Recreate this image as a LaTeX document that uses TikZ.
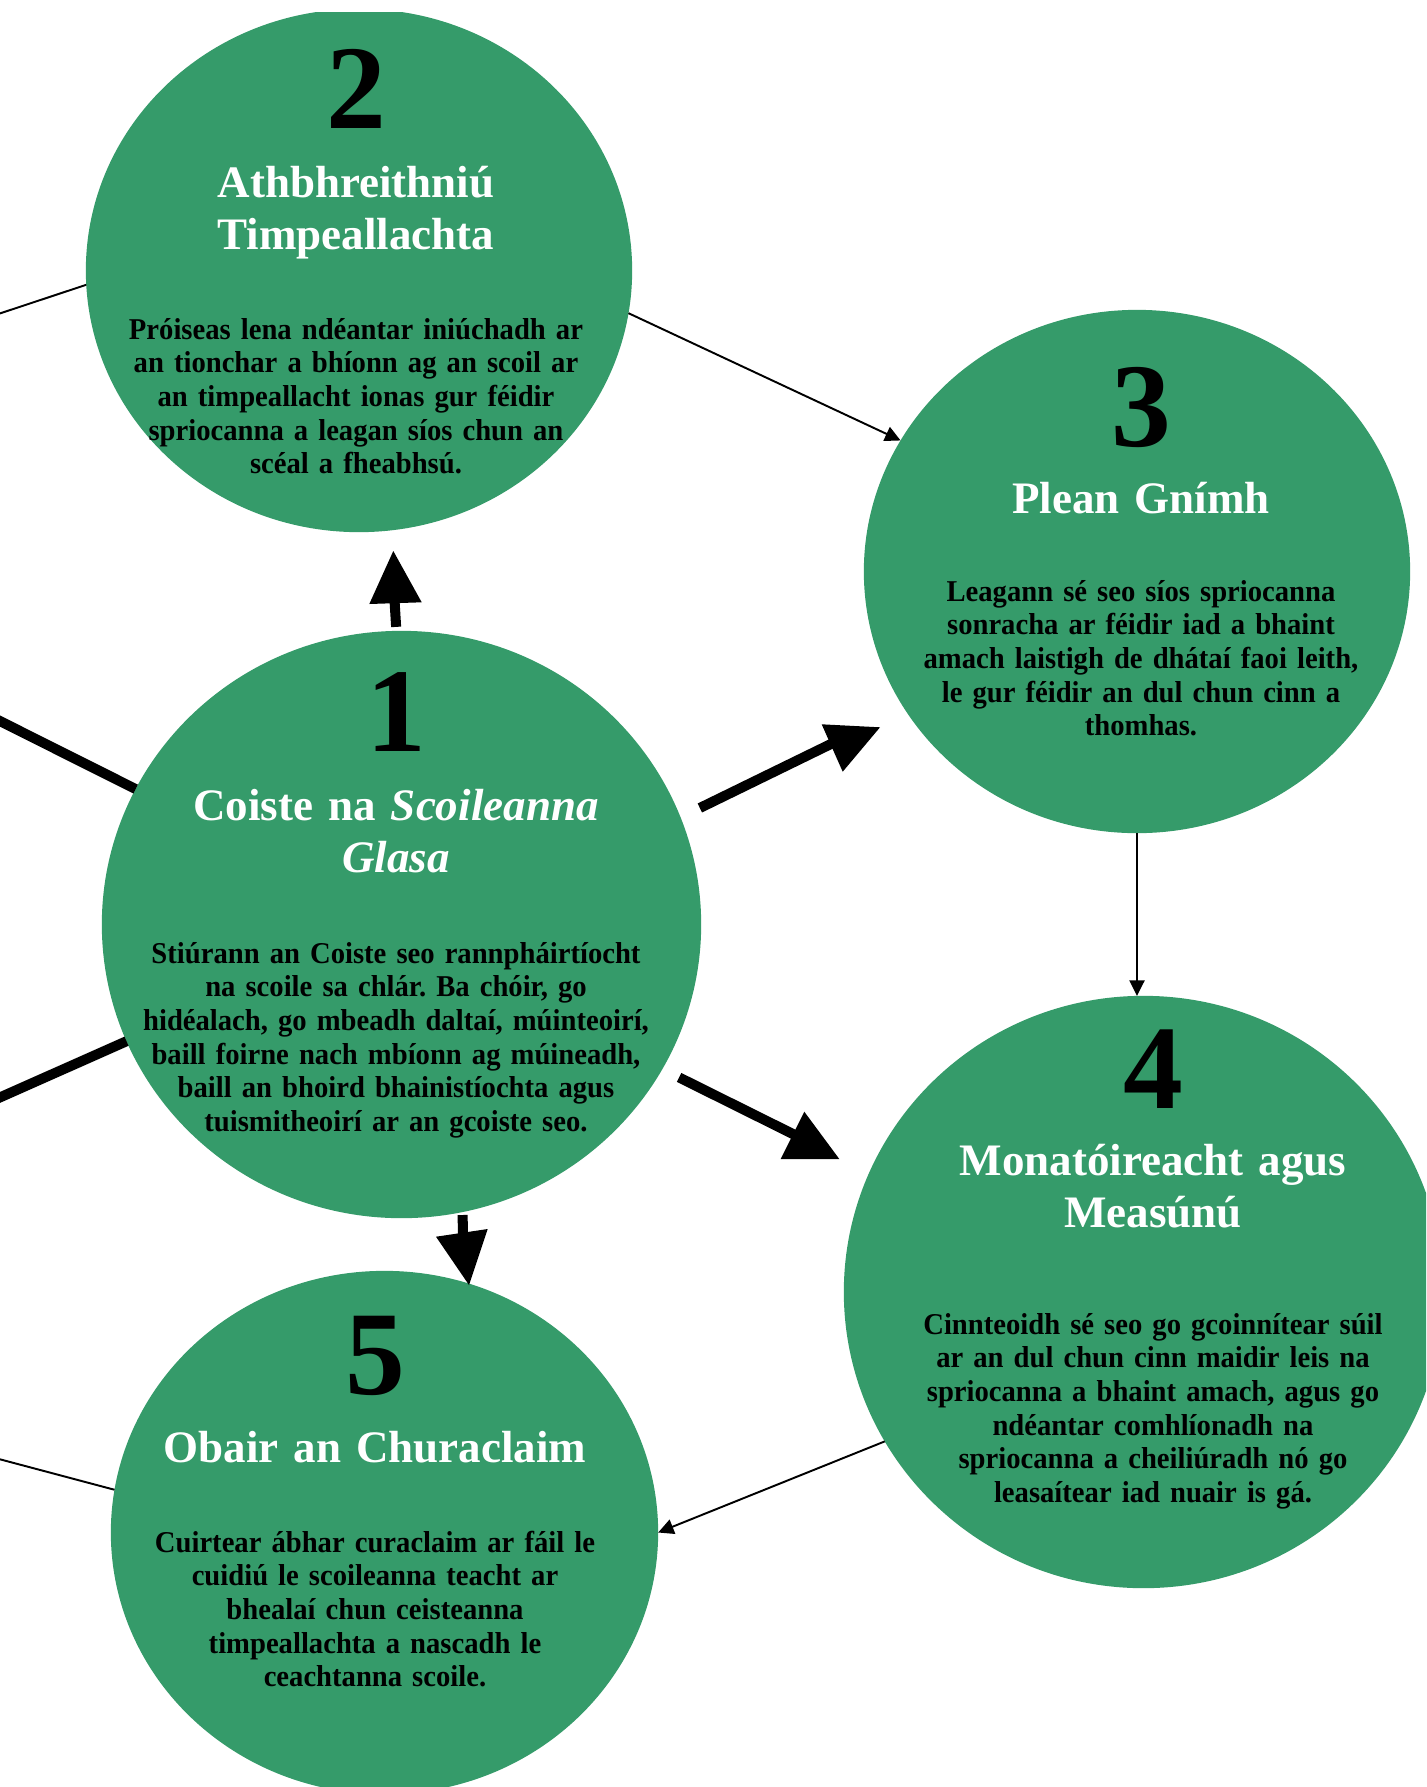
\documentclass[tikz,border=0pt]{standalone}
\usepackage{fontspec}
\setmainfont{Liberation Serif}
\newfontfamily\bodyfont{Liberation Serif}[FakeStretch=0.947]
\frenchspacing
\usetikzlibrary{shapes.geometric,arrows.meta,calc}
\definecolor{leafgreen}{RGB}{53,155,106}
\tikzset{
  bubble/.style={ellipse, fill=leafgreen, draw=none, inner sep=0pt, outer sep=0pt},
  numtext/.style={anchor=base, inner sep=0pt, font=\bfseries\fontsize{34}{34}\selectfont, text=black},
  titletext/.style={anchor=base, inner sep=0pt, align=center, text width=6cm, font=\bfseries\fontsize{12.8}{14.8}\selectfont\frenchspacing, text=white},
  bodytext/.style={anchor=base, inner sep=0pt, align=center, text width=6cm, font=\bodyfont\bfseries\fontsize{8.6}{9.59}\selectfont\frenchspacing, text=black},
  thinlink/.style={line width=0.55pt, draw=black},
  thinarrow/.style={thinlink, -{Triangle[length=4.4pt,width=4.3pt]}},
  thicklink/.style={line width=2.85pt, draw=black},
  headfill/.style={fill=black, draw=none},
}
\begin{document}
\begin{tikzpicture}[x=0.01cm,y=-0.01cm]
\useasboundingbox (0,0) rectangle (1426,1787);
\begin{scope}
\clip (0,12) rectangle (1426,1787);
% circles
\node[bubble, minimum width=5.99cm, minimum height=5.87cm] (c1) at (401.5,924.5) {};
\node[bubble, minimum width=5.46cm, minimum height=5.23cm] (c2) at (359,270.5) {};
\node[bubble, minimum width=5.46cm, minimum height=5.23cm] (c3) at (1137,571.5) {};
\node[bubble, minimum width=5.99cm, minimum height=5.92cm] (c4) at (1143.5,1292) {};
\node[bubble, minimum width=5.47cm, minimum height=5.23cm] (c5) at (384.5,1532.5) {};
% free ends at the left border
\coordinate (w2) at (-50,330);
\coordinate (w5) at (-50,1446);
\coordinate (w1a) at (-50,696);
\coordinate (w1b) at (-50,1119.6);
% thin connectors
\draw[thinlink] (c2.183.9) -- (w2);
\draw[thinarrow] (c2.-9.5) -- (c3.151.1);
\draw[thinarrow] (c3.south) -- (c3.south |- c4.north);
\draw[thinarrow] (c4.210.9) -- (c5.0.2);
\draw[thinlink] (c5.171.4) -- (w5);
% thick connectors from 1
\draw[thicklink] (c1.153.4) -- (w1a);
\draw[thicklink] (c1.203.4) -- (w1b);
% up
\coordinate (hup) at (394.5,600);
\draw[thicklink, shorten <=0.04cm] (c1.91.1) -- (hup);
\fill[headfill] (393.3,551) -- (369.3,604) -- (421.7,602.3) -- cycle;
% upper right
\coordinate (hur) at (835,742);
\draw[thicklink, shorten <=0.215cm] (c1.21.7) -- (hur);
\fill[headfill] (821.7,724.3) -- (880,727.3) -- (842.7,771.7) -- cycle;
% lower right
\coordinate (hlr) at (805,1140);
\draw[thicklink, shorten <=0.187cm] (c1.-29.06) -- (hlr);
\fill[headfill] (804.3,1111.7) -- (780.7,1159) -- (839.3,1159) -- cycle;
% down
\coordinate (hdn) at (463,1240);
\draw[thicklink, shorten <=0.03cm] (c1.-78.7) -- (hdn);
\fill[headfill] (436,1236.7) -- (487.7,1229) -- (469,1285) -- cycle;
% texts circle 1
\node[numtext] (n1) at (396,751.5) {1};
\node[titletext] (h1) at (396,820) {Coiste na \textit{Scoileanna}\\\textit{Glasa}};
\node[bodytext] (b1) at (396,963) {Stiúrann an Coiste seo rannpháirtíocht\\na scoile sa chlár. Ba chóir, go\\hidéalach, go mbeadh daltaí, múinteoirí,\\baill foirne nach mbíonn ag múineadh,\\baill an bhoird bhainistíochta agus\\tuismitheoirí ar an gcoiste seo.};
% circle 2
\node[numtext] (n2) at (356,128) {2};
\node[titletext] (h2) at (356,197) {Athbhreithniú\\Timpeallachta};
\node[bodytext] (b2) at (356,339) {Próiseas lena ndéantar iniúchadh ar\\an tionchar a bhíonn ag an scoil ar\\an timpeallacht ionas gur féidir\\spriocanna a leagan síos chun an\\scéal a fheabhsú.};
% circle 3
\node[numtext] (n3) at (1141,446) {3};
\node[titletext] (h3) at (1141,513) {Plean Gnímh};
\node[bodytext] (b3) at (1141,601) {Leagann sé seo síos spriocanna\\sonracha ar féidir iad a bhaint\\amach laistigh de dhátaí faoi leith,\\le gur féidir an dul chun cinn a\\thomhas.};
% circle 4
\node[numtext] (n4) at (1153,1108) {4};
\node[titletext] (h4) at (1153,1175) {Monatóireacht agus\\Measúnú};
\node[bodytext] (b4) at (1153,1334) {Cinnteoidh sé seo go gcoinnítear súil\\ar an dul chun cinn maidir leis na\\spriocanna a bhaint amach, agus go\\ndéantar comhlíonadh na\\spriocanna a cheiliúradh nó go\\leasaítear iad nuair is gá.};
% circle 5
\node[numtext] (n5) at (375,1394.8) {5};
\node[titletext] (h5) at (375,1462) {Obair an Churaclaim};
\node[bodytext] (b5) at (375,1552) {Cuirtear ábhar curaclaim ar fáil le\\cuidiú le scoileanna teacht ar\\bhealaí chun ceisteanna\\timpeallachta a nascadh le\\ceachtanna scoile.};
\end{scope}
\end{tikzpicture}
\end{document}
